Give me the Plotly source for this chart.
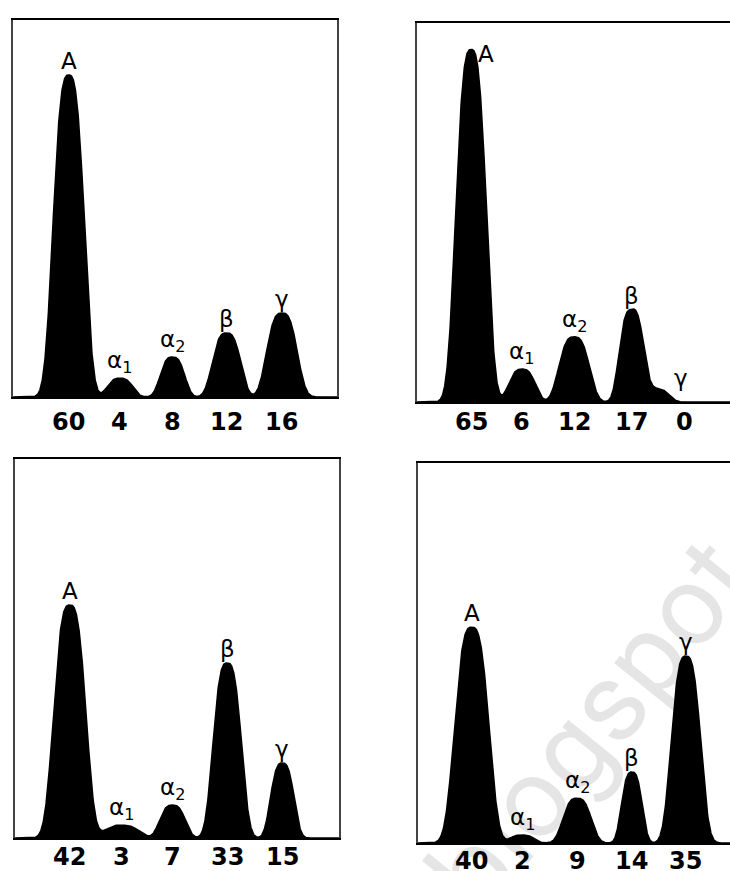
import numpy as np
import plotly.graph_objects as go

# ---------------- data ----------------
fractions = ["A", "α<sub>1</sub>", "α<sub>2</sub>", "β", "γ"]

# percentage values printed under each peak
values_1 = [60, 4, 8, 12, 16]
values_2 = [65, 6, 12, 17, 0]
values_3 = [42, 3, 7, 33, 15]
values_4 = [40, 2, 9, 14, 35]

# peak positions along the strip (0-100 = frame width)
pos_1 = [17.2, 33.0, 49.2, 65.9, 83.0]
pos_2 = [16.7, 32.4, 48.5, 66.1, 82.7]
pos_3 = [16.9, 32.9, 48.6, 65.5, 82.5]
pos_4 = [16.6, 32.1, 49.1, 66.0, 82.7]

# peak heights (0-100 = frame height)
height_1 = [85.4, 5.0, 10.6, 17.0, 22.3]
height_2 = [93.0, 8.7, 17.2, 24.3, 0.0]
height_3 = [61.5, 3.4, 8.7, 46.2, 19.8]
height_4 = [56.8, 2.1, 11.8, 18.7, 49.2]

# peak widths (strip units)
width_1 = [5.7, 4.7, 4.5, 5.2, 5.6]
width_2 = [5.6, 4.9, 5.6, 4.4, 4.0]
width_3 = [5.9, 6.4, 4.7, 5.2, 4.3]
width_4 = [6.3, 4.5, 5.2, 3.8, 5.4]

# trailing shoulder of the beta peak in panel 2
shoulder_2 = dict(pos=73.5, height=3.6, width=5.0)

panels = [
    dict(values=values_1, pos=pos_1, height=height_1, width=width_1, shoulder=None),
    dict(values=values_2, pos=pos_2, height=height_2, width=width_2, shoulder=shoulder_2),
    dict(values=values_3, pos=pos_3, height=height_3, width=width_3, shoulder=None),
    dict(values=values_4, pos=pos_4, height=height_4, width=width_4, shoulder=None),
]

# ---------------- layout (pixel geometry of the frames) ----------------
W, H = 730, 871
FRAME_W = 324.0
frames = [  # left, top, baseline (px)
    (13, 20, 397),
    (417, 23, 402),
    (15, 459, 838),
    (418, 463, 843),
]
num_offset = [25, 20, 19, 18]
SHAPE_P = 3.0
NUM_FONT = dict(family="DejaVu Sans", size=24, color="black", weight="bold")
LBL_FONT = dict(family="DejaVu Sans", size=23, color="black")

fig = go.Figure()
xs = np.linspace(0, 100, 1201)

for i, (pan, (left, top, base)) in enumerate(zip(panels, frames), start=1):
    xa = "x" if i == 1 else f"x{i}"
    ya = "y" if i == 1 else f"y{i}"
    comps = list(zip(pan["pos"], pan["height"], pan["width"]))
    if pan["shoulder"]:
        s = pan["shoulder"]
        comps.append((s["pos"], s["height"], s["width"]))
    ys = np.zeros_like(xs)
    for c, h, w in comps:
        ys += h * np.exp(-np.abs((xs - c) / w) ** SHAPE_P)
    fig.add_trace(go.Scatter(
        x=xs, y=ys, mode="lines", fill="tozeroy",
        fillcolor="black", line=dict(color="black", width=1.5),
        xaxis=xa, yaxis=ya, hoverinfo="skip", showlegend=False))

    right = min(left + FRAME_W, W)
    xrange_max = (right - left) / FRAME_W * 100
    clipped = left + FRAME_W > W
    xdom = [left / W, right / W]
    ydom = [(H - base) / H, (H - top) / H]
    axname = "xaxis" if i == 1 else f"xaxis{i}"
    ayname = "yaxis" if i == 1 else f"yaxis{i}"
    fig.update_layout(**{
        axname: dict(domain=xdom, range=[0, xrange_max], anchor=ya,
                     showline=True, mirror=True, linecolor="black", linewidth=2,
                     showgrid=False, zeroline=False, showticklabels=False, ticks=""),
        ayname: dict(domain=ydom, range=[0, 100], anchor=xa,
                     showline=True, mirror=not clipped, linecolor="#444", linewidth=1.5,
                     showgrid=False, zeroline=False, showticklabels=False, ticks=""),
    })

    for j, (name, c, h, v) in enumerate(zip(fractions, pan["pos"], pan["height"], pan["values"])):
        # value under the peak
        fig.add_annotation(x=c, y=0, xref=xa, yref=ya, text=str(v), showarrow=False,
                           xanchor="center", yanchor="middle", yshift=-num_offset[i - 1],
                           font=NUM_FONT)
        # fraction label above the peak
        if i == 2 and j == 0:
            fig.add_annotation(x=c, y=h, xref=xa, yref=ya, text=name, showarrow=False,
                               xanchor="left", yanchor="top", xshift=5, yshift=11,
                               font=LBL_FONT)
        elif h <= 0:
            fig.add_annotation(x=c, y=0, xref=xa, yref=ya, text=name, showarrow=False,
                               xanchor="center", yanchor="middle", xshift=-4, yshift=24,
                               font=LBL_FONT)
        else:
            fig.add_annotation(x=c, y=h, xref=xa, yref=ya, text=name, showarrow=False,
                               xanchor="center", yanchor="bottom", yshift=-1,
                               font=LBL_FONT)

# faint watermark
fig.add_annotation(x=590 / W, y=(H - 725) / H, xref="paper", yref="paper",
                   xanchor="center", yanchor="middle",
                   text="blogspot", showarrow=False, textangle=-51,
                   font=dict(family="Roboto", size=112, color="rgba(0,0,0,0.10)"))

fig.update_layout(width=W, height=H, margin=dict(l=0, r=0, t=0, b=0),
                  paper_bgcolor="white", plot_bgcolor="white", showlegend=False)

fig.write_html("out.html", config={"displayModeBar": False},
               post_script="document.body.style.margin='0';document.body.style.padding='0';")
